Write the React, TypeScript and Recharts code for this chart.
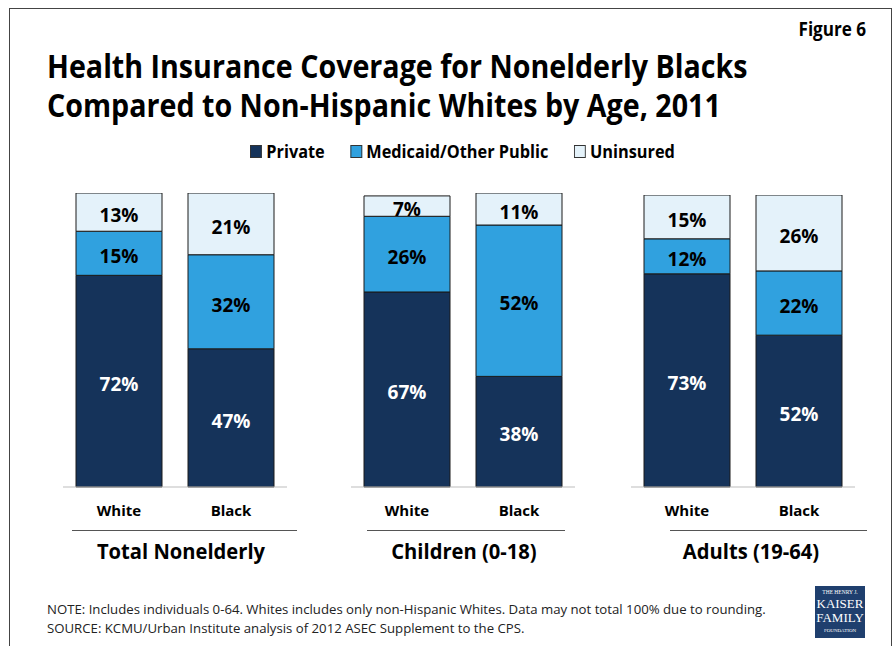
import React from 'react';
import { BarChart, Bar, XAxis, YAxis, LabelList } from 'recharts';

const groups = ['Total Nonelderly', 'Children (0-18)', 'Adults (19-64)'];
const races = ['White', 'Black'];
// per group: [White, Black]
const privateShare = [[72, 47], [67, 38], [73, 52]];
const medicaidShare = [[15, 32], [26, 52], [12, 22]];
const uninsuredShare = [[13, 21], [7, 11], [15, 26]];

const COLORS = { private: '#15335A', medicaid: '#30A1DF', uninsured: '#E4F2FA' };
const FONT = "'Open Sans', 'Liberation Sans', sans-serif";

// where each little chart sits on the page
const layout = [
  { left: 62, top: 193, plotH: 294, line: [72, 297], labelX: 181 },
  { left: 350, top: 193, plotH: 294, line: [367, 565], labelX: 464 },
  { left: 630, top: 195, plotH: 292, line: [670, 867], labelX: 751 },
];

const pct = (v: any) => `${v}%`;
const valStyle = (fill: string) => ({ fill, fontFamily: FONT, fontWeight: 700, fontSize: 19 });

function GroupChart({ gi }: { gi: number }) {
  const data = races.map((r, i) => ({
    race: r,
    private: privateShare[gi][i],
    medicaid: medicaidShare[gi][i],
    uninsured: uninsuredShare[gi][i],
  }));
  const L = layout[gi];
  return (
    <div style={{ position: 'absolute', left: L.left, top: L.top }}>
      <BarChart width={226} height={L.plotH + 41} data={data}
        margin={{ top: 0, right: 1, bottom: 0, left: 1 }} barCategoryGap={13}>
        <XAxis xAxisId={0} type="number" domain={[0, 2]} ticks={[0, 1, 2]} tick={false}
          tickSize={6} height={1} stroke="#BDBDBD" />
        <XAxis xAxisId={1} dataKey="race" axisLine={false} tickLine={false} tickSize={0}
          tickMargin={17} height={40}
          tick={{ fill: '#000', fontFamily: FONT, fontWeight: 700, fontSize: 15 }} />
        <YAxis hide domain={[0, 'dataMax']} />
        <Bar xAxisId={1} dataKey="private" stackId="a" fill={COLORS.private} stroke="#1a1a1a"
          strokeWidth={1} isAnimationActive={false}>
          <LabelList dataKey="private" position="center" formatter={pct} dy={3} style={valStyle('#fff')} />
        </Bar>
        <Bar xAxisId={1} dataKey="medicaid" stackId="a" fill={COLORS.medicaid} stroke="#1a1a1a"
          strokeWidth={1} isAnimationActive={false}>
          <LabelList dataKey="medicaid" position="center" formatter={pct} dy={3} style={valStyle('#000')} />
        </Bar>
        <Bar xAxisId={1} dataKey="uninsured" stackId="a" fill={COLORS.uninsured} stroke="#1a1a1a"
          strokeWidth={1} isAnimationActive={false}>
          <LabelList dataKey="uninsured" position="center" formatter={pct} dy={3} style={valStyle('#000')} />
        </Bar>
      </BarChart>
    </div>
  );
}

const legendItems = [
  { name: 'Private', color: COLORS.private },
  { name: 'Medicaid/Other Public', color: COLORS.medicaid },
  { name: 'Uninsured', color: COLORS.uninsured },
];

export default function App() {
  return (
    <div style={{ position: 'absolute', left: 0, top: 0, width: 894, height: 646, overflow: 'hidden',
      background: '#fff', fontFamily: FONT }}>
      <div style={{ position: 'absolute', left: 9, top: 8, width: 881, height: 700,
        border: '1px solid #444' }} />
      <div style={{ position: 'absolute', right: 28, top: 16, fontWeight: 700, fontSize: 19,
        transform: 'scaleX(0.9)', transformOrigin: 'right center' }}>Figure 6</div>
      <div style={{ position: 'absolute', left: 47, top: 46, fontWeight: 700, whiteSpace: 'nowrap',
        fontSize: 32, lineHeight: '39px', color: '#000', transform: 'scaleX(0.895)',
        transformOrigin: 'left top' }}>
        Health Insurance Coverage for Nonelderly Blacks<br />
        Compared to Non-Hispanic Whites by Age, 2011
      </div>
      <div style={{ position: 'absolute', left: 250, top: 140, display: 'flex', alignItems: 'center',
        fontWeight: 700, fontSize: 18, lineHeight: '22px', whiteSpace: 'nowrap',
        transform: 'scaleX(0.905)', transformOrigin: 'left center' }}>
        {legendItems.map((it, i) => (
          <div key={it.name} style={{ display: 'flex', alignItems: 'center', marginRight: i < 2 ? 28 : 0 }}>
            <span style={{ width: 11, height: 11, background: it.color, border: '1px solid #333',
              marginRight: 5, display: 'inline-block' }} />
            {it.name}
          </div>
        ))}
      </div>
      {groups.map((g, gi) => (
        <React.Fragment key={g}>
          <GroupChart gi={gi} />
          <div style={{ position: 'absolute', left: layout[gi].line[0], top: 530,
            width: layout[gi].line[1] - layout[gi].line[0], borderTop: '1.5px solid #555' }} />
          <div style={{ position: 'absolute', left: layout[gi].labelX - 150, width: 300, top: 537,
            textAlign: 'center', fontWeight: 700, fontSize: 21, transform: 'scaleX(0.96)' }}>{g}</div>
        </React.Fragment>
      ))}
      <div style={{ position: 'absolute', left: 47, top: 600, fontSize: 13.2, lineHeight: '19px',
        color: '#222', whiteSpace: 'nowrap' }}>
        NOTE: Includes individuals 0-64. Whites includes only non-Hispanic Whites. Data may not total 100% due to rounding.<br />
        SOURCE: KCMU/Urban Institute analysis of 2012 ASEC Supplement to the CPS.
      </div>
      <div style={{ position: 'absolute', left: 815, top: 586, width: 50, height: 52, background: '#1F3F6E',
        color: '#fff', fontFamily: "'Liberation Serif', serif", textAlign: 'center' }}>
        <div style={{ fontSize: 5.5, lineHeight: '7px', marginTop: 3 }}>THE HENRY J.</div>
        <div style={{ fontSize: 13, lineHeight: '14px', marginTop: 1 }}>KAISER</div>
        <div style={{ fontSize: 13, lineHeight: '14px' }}>FAMILY</div>
        <div style={{ fontSize: 5, lineHeight: '7px', marginTop: 2 }}>FOUNDATION</div>
      </div>
    </div>
  );
}
